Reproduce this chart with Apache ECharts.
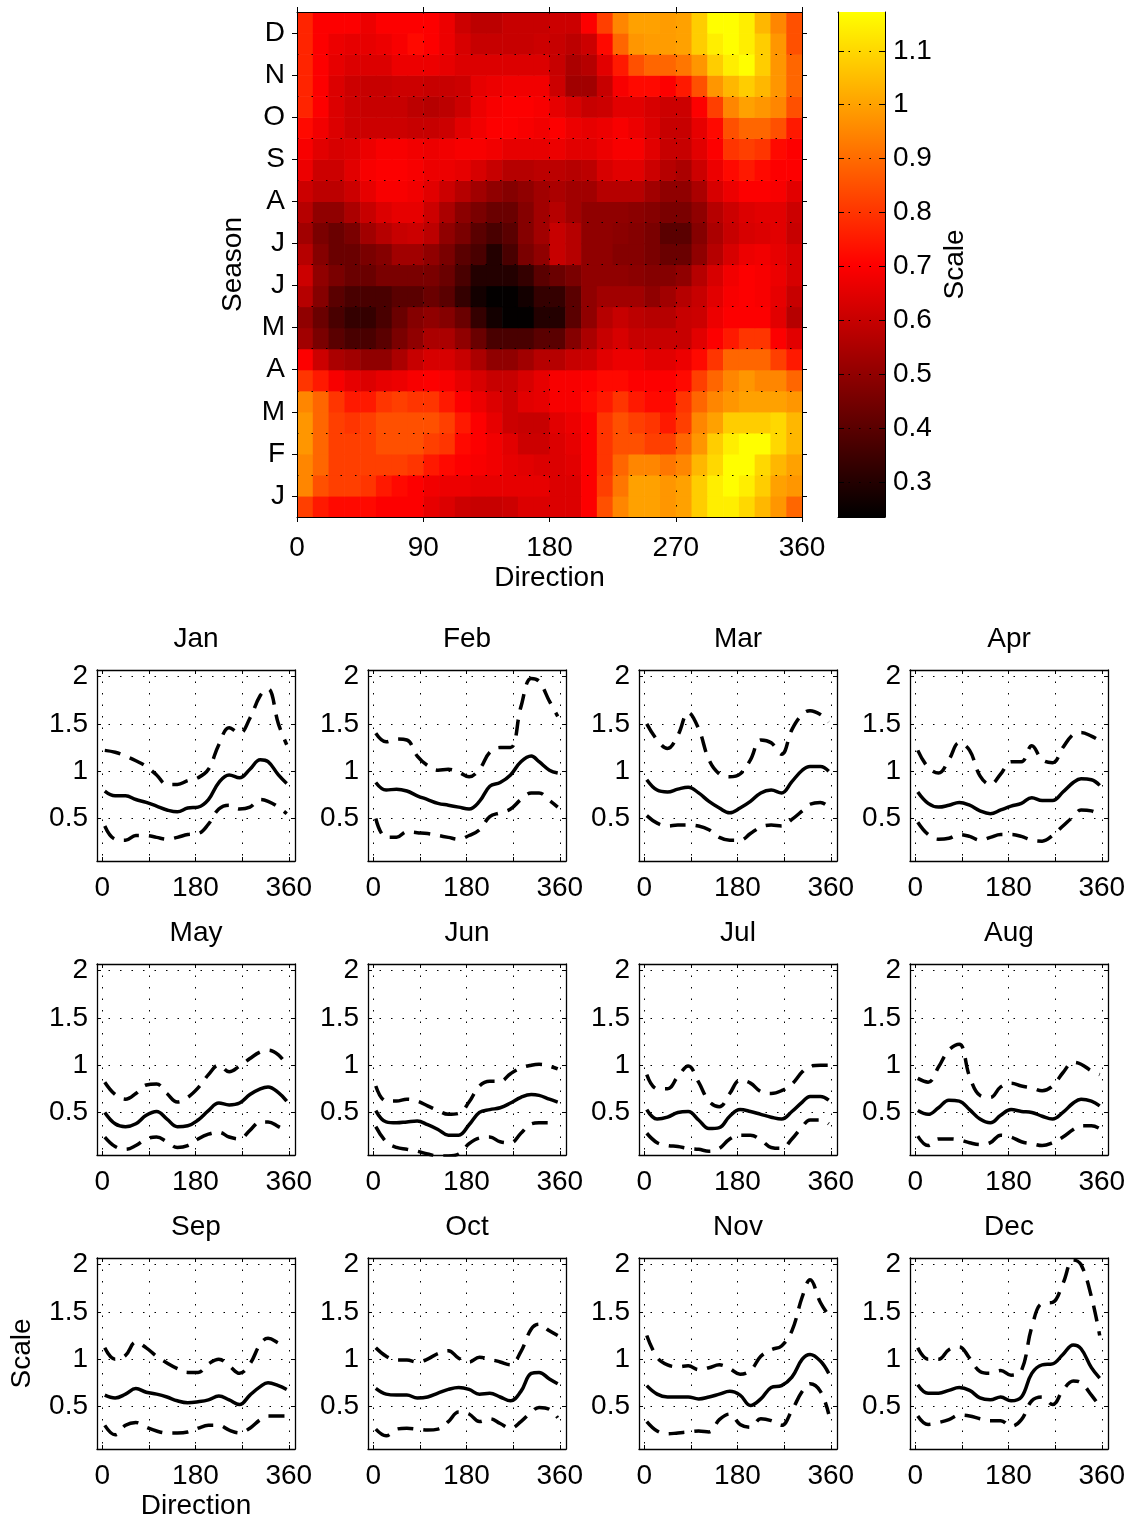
<!DOCTYPE html>
<html><head><meta charset="utf-8">
<script src="https://cdn.jsdelivr.net/npm/echarts@6/dist/echarts.min.js"></script>
<style>html,body{margin:0;padding:0;background:#fff}#chart{width:1132px;height:1522px}</style>
</head><body><div id="chart"></div>
<script>
// ---------------- DATA ----------------
const seasonLabels = ['J','F','M','A','M','J','J','A','S','O','N','D'];
const heatDirections = [0,11.25,22.5,33.75,45,56.25,67.5,78.75,90,101.25,112.5,123.75,135,146.25,157.5,168.75,180,191.25,202.5,213.75,225,236.25,247.5,258.75,270,281.25,292.5,303.75,315,326.25,337.5,348.75];
const colorRange = [0.235, 1.172];
const colorbarTicks = [0.3,0.4,0.5,0.6,0.7,0.8,0.9,1,1.1];
// each month: [first half, second half], 32 direction bins
const heatJan = [
 [0.82,0.75,0.72,0.72,0.72,0.70,0.70,0.70,0.66,0.64,0.61,0.60,0.60,0.61,0.64,0.64,0.64,0.64,0.70,0.85,0.95,1.00,1.00,0.98,1.00,1.08,1.14,1.14,1.10,1.04,0.98,0.89],
 [0.95,0.85,0.82,0.82,0.80,0.75,0.72,0.70,0.68,0.67,0.67,0.66,0.66,0.66,0.66,0.66,0.64,0.64,0.70,0.82,0.92,1.00,1.00,0.98,1.00,1.08,1.14,1.17,1.14,1.08,1.00,0.98]];
const heatFeb = [
 [0.95,0.89,0.82,0.82,0.82,0.82,0.82,0.80,0.75,0.72,0.70,0.69,0.68,0.66,0.65,0.64,0.64,0.65,0.70,0.80,0.89,0.95,0.95,0.92,0.95,1.04,1.10,1.17,1.17,1.10,1.04,1.00],
 [0.98,0.89,0.82,0.82,0.82,0.85,0.85,0.85,0.82,0.80,0.72,0.70,0.68,0.65,0.61,0.61,0.64,0.66,0.70,0.80,0.85,0.85,0.82,0.82,0.89,0.98,1.08,1.14,1.17,1.17,1.10,1.04]];
const heatMar = [
 [0.98,0.89,0.82,0.80,0.82,0.85,0.85,0.85,0.85,0.82,0.75,0.70,0.66,0.61,0.60,0.60,0.65,0.67,0.70,0.80,0.85,0.82,0.80,0.75,0.82,0.95,1.00,1.08,1.08,1.08,1.10,1.04],
 [0.95,0.89,0.80,0.75,0.75,0.80,0.82,0.80,0.80,0.75,0.70,0.67,0.64,0.61,0.65,0.66,0.69,0.69,0.72,0.75,0.80,0.75,0.72,0.72,0.80,0.89,0.95,0.98,1.00,1.00,1.00,0.98]];
const heatApr = [
 [0.80,0.75,0.69,0.66,0.64,0.66,0.67,0.69,0.70,0.69,0.66,0.63,0.60,0.60,0.63,0.66,0.69,0.69,0.70,0.72,0.72,0.70,0.70,0.70,0.72,0.82,0.89,0.95,0.98,0.95,0.95,0.89],
 [0.70,0.61,0.55,0.53,0.50,0.50,0.55,0.60,0.63,0.63,0.60,0.55,0.50,0.50,0.53,0.57,0.57,0.60,0.61,0.65,0.67,0.67,0.65,0.65,0.67,0.72,0.80,0.89,0.89,0.89,0.82,0.75]];
const heatMay = [
 [0.53,0.46,0.40,0.37,0.37,0.40,0.46,0.50,0.55,0.55,0.50,0.43,0.37,0.37,0.37,0.40,0.40,0.48,0.55,0.60,0.63,0.60,0.60,0.60,0.60,0.65,0.70,0.75,0.80,0.80,0.70,0.65],
 [0.50,0.43,0.37,0.33,0.33,0.37,0.43,0.48,0.50,0.48,0.43,0.33,0.27,0.24,0.24,0.30,0.30,0.40,0.50,0.57,0.60,0.58,0.57,0.57,0.60,0.61,0.67,0.70,0.70,0.70,0.65,0.57]];
const heatJun = [
 [0.57,0.48,0.40,0.37,0.37,0.37,0.40,0.40,0.43,0.40,0.33,0.27,0.24,0.24,0.27,0.33,0.33,0.40,0.50,0.53,0.53,0.53,0.50,0.53,0.57,0.60,0.65,0.69,0.70,0.69,0.66,0.60],
 [0.61,0.50,0.46,0.43,0.43,0.46,0.46,0.46,0.46,0.43,0.37,0.30,0.30,0.30,0.33,0.40,0.43,0.46,0.50,0.50,0.50,0.49,0.48,0.48,0.50,0.57,0.63,0.68,0.70,0.69,0.67,0.63]];
const heatJul = [
 [0.57,0.48,0.43,0.43,0.46,0.48,0.53,0.53,0.50,0.46,0.40,0.37,0.30,0.37,0.46,0.50,0.60,0.57,0.50,0.50,0.48,0.48,0.46,0.43,0.43,0.50,0.57,0.63,0.67,0.68,0.66,0.63],
 [0.53,0.46,0.43,0.46,0.53,0.57,0.60,0.61,0.58,0.50,0.46,0.40,0.37,0.40,0.48,0.53,0.60,0.57,0.50,0.50,0.49,0.48,0.46,0.40,0.40,0.48,0.55,0.60,0.63,0.64,0.65,0.60]];
const heatAug = [
 [0.57,0.50,0.50,0.55,0.60,0.64,0.66,0.66,0.61,0.55,0.49,0.46,0.43,0.43,0.48,0.53,0.57,0.53,0.50,0.50,0.50,0.49,0.48,0.46,0.46,0.50,0.57,0.61,0.64,0.65,0.65,0.61],
 [0.61,0.58,0.58,0.61,0.66,0.69,0.69,0.68,0.65,0.61,0.57,0.53,0.50,0.48,0.50,0.53,0.55,0.53,0.53,0.57,0.57,0.57,0.53,0.50,0.50,0.55,0.63,0.67,0.70,0.70,0.69,0.65]];
const heatSep = [
 [0.67,0.61,0.61,0.65,0.69,0.70,0.70,0.69,0.67,0.67,0.66,0.63,0.60,0.57,0.57,0.58,0.58,0.57,0.58,0.63,0.65,0.65,0.61,0.57,0.55,0.61,0.67,0.72,0.75,0.72,0.70,0.70],
 [0.69,0.65,0.63,0.64,0.67,0.69,0.69,0.68,0.67,0.68,0.69,0.69,0.68,0.66,0.66,0.66,0.67,0.65,0.65,0.67,0.69,0.69,0.65,0.60,0.60,0.65,0.70,0.80,0.82,0.80,0.72,0.70]];
const heatOct = [
 [0.72,0.68,0.64,0.61,0.61,0.61,0.61,0.60,0.60,0.61,0.65,0.68,0.70,0.70,0.69,0.68,0.70,0.67,0.66,0.67,0.69,0.67,0.64,0.60,0.60,0.66,0.72,0.85,0.89,0.89,0.85,0.75],
 [0.77,0.70,0.64,0.61,0.60,0.60,0.60,0.58,0.57,0.58,0.61,0.67,0.69,0.70,0.70,0.69,0.66,0.63,0.60,0.61,0.65,0.65,0.63,0.61,0.61,0.70,0.82,0.95,1.00,0.98,0.95,0.85]];
const heatNov = [
 [0.77,0.70,0.64,0.61,0.60,0.60,0.61,0.61,0.60,0.60,0.61,0.66,0.67,0.68,0.68,0.68,0.61,0.53,0.53,0.60,0.69,0.72,0.72,0.70,0.75,0.85,0.98,1.04,1.08,1.04,0.98,0.89],
 [0.77,0.70,0.66,0.64,0.64,0.64,0.67,0.67,0.67,0.66,0.64,0.64,0.64,0.64,0.64,0.64,0.60,0.55,0.57,0.65,0.75,0.85,0.89,0.89,0.92,0.98,1.08,1.14,1.17,1.08,0.98,0.89]];
const heatDec = [
 [0.77,0.70,0.67,0.66,0.66,0.67,0.69,0.72,0.70,0.67,0.63,0.60,0.60,0.60,0.60,0.61,0.60,0.58,0.61,0.72,0.89,0.98,0.99,0.99,1.00,1.08,1.14,1.17,1.14,1.08,0.98,0.85],
 [0.77,0.70,0.70,0.70,0.67,0.70,0.70,0.70,0.70,0.67,0.61,0.58,0.58,0.60,0.60,0.60,0.61,0.61,0.70,0.82,0.95,1.00,1.00,0.99,1.00,1.08,1.17,1.17,1.14,1.04,0.95,0.85]];

const monthNames = ['Jan','Feb','Mar','Apr','May','Jun','Jul','Aug','Sep','Oct','Nov','Dec'];
const lineDirections = [5,25,45,65,85,105,125,145,165,185,205,225,245,265,285,305,320,340,356];
const panelXLabels = [0,180,360];
const panelXTicks = [0,90,180,270,360];
const panelYTicks = [0.5,1,1.5,2];
const panelYRange = [0.05, 2.07];
const panelXRange = [-10, 372];

const janMedian = [0.79,0.74,0.74,0.70,0.67,0.63,0.59,0.57,0.61,0.62,0.70,0.88,0.96,0.93,1.02,1.12,1.10,0.96,0.87];
const janUpper  = [1.22,1.20,1.16,1.11,1.05,0.96,0.86,0.86,0.90,0.93,1.02,1.28,1.46,1.40,1.56,1.80,1.87,1.50,1.28];
const janLower  = [0.42,0.28,0.27,0.32,0.32,0.30,0.28,0.30,0.33,0.34,0.44,0.60,0.64,0.60,0.62,0.70,0.68,0.62,0.55];
const febMedian = [0.88,0.80,0.81,0.79,0.74,0.70,0.66,0.64,0.62,0.60,0.68,0.84,0.88,0.96,1.10,1.16,1.10,1.01,0.98];
const febUpper  = [1.40,1.31,1.34,1.33,1.16,1.06,1.01,1.02,0.99,0.94,1.02,1.20,1.25,1.25,1.68,1.98,1.95,1.74,1.58];
const febLower  = [0.50,0.30,0.30,0.36,0.35,0.34,0.32,0.30,0.28,0.32,0.38,0.52,0.56,0.60,0.70,0.77,0.77,0.69,0.62];
const marMedian = [0.91,0.80,0.78,0.81,0.83,0.77,0.68,0.61,0.56,0.61,0.68,0.77,0.80,0.77,0.89,1.01,1.05,1.05,1.00];
const marUpper  = [1.50,1.33,1.24,1.38,1.62,1.45,1.12,0.97,0.94,0.97,1.12,1.33,1.30,1.18,1.44,1.60,1.64,1.60,1.52];
const marLower  = [0.53,0.45,0.42,0.43,0.43,0.42,0.38,0.30,0.27,0.27,0.34,0.41,0.43,0.42,0.49,0.58,0.65,0.67,0.62];
const aprMedian = [0.78,0.66,0.62,0.64,0.67,0.64,0.58,0.55,0.59,0.63,0.66,0.72,0.69,0.69,0.78,0.88,0.92,0.91,0.85];
const aprUpper  = [1.22,1.04,0.98,1.12,1.30,1.22,0.95,0.86,0.97,1.10,1.10,1.27,1.12,1.09,1.25,1.39,1.41,1.37,1.32];
const aprLower  = [0.46,0.33,0.28,0.29,0.33,0.31,0.27,0.30,0.33,0.33,0.31,0.27,0.26,0.32,0.42,0.52,0.59,0.58,0.54];
const mayMedian = [0.50,0.38,0.35,0.38,0.47,0.51,0.43,0.35,0.36,0.42,0.52,0.60,0.58,0.60,0.69,0.75,0.77,0.71,0.62];
const mayUpper  = [0.82,0.69,0.64,0.70,0.79,0.80,0.70,0.61,0.66,0.76,0.90,1.00,0.93,0.99,1.07,1.14,1.16,1.11,1.00];
const mayLower  = [0.24,0.14,0.11,0.15,0.22,0.24,0.19,0.13,0.15,0.22,0.27,0.29,0.24,0.22,0.31,0.40,0.40,0.35,0.30];
const junMedian = [0.52,0.40,0.39,0.40,0.41,0.37,0.32,0.26,0.26,0.37,0.50,0.53,0.55,0.60,0.66,0.69,0.68,0.64,0.61];
const junUpper  = [0.78,0.62,0.62,0.64,0.62,0.57,0.52,0.48,0.49,0.61,0.78,0.83,0.83,0.91,0.97,1.00,1.01,0.99,0.96];
const junLower  = [0.35,0.19,0.13,0.11,0.09,0.06,0.04,0.04,0.06,0.17,0.23,0.24,0.19,0.18,0.28,0.38,0.39,0.39,0.38];
const julMedian = [0.53,0.43,0.45,0.50,0.51,0.42,0.33,0.34,0.46,0.53,0.51,0.48,0.45,0.43,0.51,0.61,0.67,0.67,0.63];
const julUpper  = [0.90,0.75,0.75,0.88,0.99,0.82,0.62,0.56,0.70,0.84,0.81,0.72,0.70,0.73,0.80,0.93,0.99,1.00,1.00];
const julLower  = [0.28,0.18,0.15,0.14,0.12,0.11,0.09,0.12,0.22,0.26,0.26,0.21,0.13,0.12,0.22,0.35,0.42,0.42,0.38];
const augMedian = [0.52,0.48,0.55,0.63,0.62,0.53,0.43,0.39,0.47,0.53,0.51,0.50,0.46,0.43,0.50,0.60,0.64,0.62,0.57];
const augUpper  = [0.86,0.82,0.98,1.16,1.22,0.88,0.68,0.66,0.77,0.81,0.78,0.76,0.73,0.78,0.92,1.03,1.01,0.94,0.90];
const augLower  = [0.25,0.15,0.22,0.22,0.21,0.18,0.16,0.18,0.26,0.24,0.19,0.17,0.15,0.18,0.24,0.32,0.36,0.36,0.33];
const sepMedian = [0.62,0.59,0.63,0.69,0.65,0.63,0.60,0.56,0.54,0.55,0.57,0.61,0.57,0.52,0.62,0.71,0.75,0.72,0.68];
const sepUpper  = [1.12,1.00,1.04,1.18,1.12,1.03,0.96,0.90,0.86,0.86,0.95,1.00,0.93,0.85,0.95,1.16,1.22,1.17,1.12];
const sepLower  = [0.30,0.20,0.30,0.33,0.28,0.24,0.22,0.22,0.23,0.27,0.30,0.30,0.25,0.22,0.27,0.36,0.40,0.40,0.40];
const octMedian = [0.69,0.63,0.62,0.62,0.59,0.60,0.64,0.68,0.70,0.68,0.63,0.64,0.60,0.56,0.66,0.85,0.86,0.79,0.74];
const octUpper  = [1.12,1.03,0.99,0.99,0.97,1.00,1.06,1.09,1.01,0.97,1.02,1.00,0.97,0.94,1.08,1.32,1.37,1.30,1.25];
const octLower  = [0.26,0.19,0.26,0.27,0.26,0.25,0.26,0.34,0.44,0.42,0.34,0.37,0.32,0.27,0.34,0.44,0.49,0.47,0.38];
const novMedian = [0.72,0.63,0.60,0.60,0.60,0.58,0.60,0.63,0.66,0.62,0.51,0.58,0.70,0.72,0.81,1.00,1.05,0.98,0.85];
const novUpper  = [1.25,1.02,0.94,0.92,0.93,0.89,0.91,0.94,0.90,0.84,0.88,1.03,1.10,1.14,1.30,1.66,1.84,1.60,1.46];
const novLower  = [0.34,0.24,0.21,0.22,0.23,0.24,0.23,0.36,0.42,0.31,0.28,0.37,0.35,0.30,0.46,0.66,0.74,0.66,0.42];
const decMedian = [0.73,0.64,0.64,0.67,0.70,0.67,0.59,0.57,0.60,0.56,0.60,0.85,0.94,0.95,1.05,1.15,1.11,0.91,0.80];
const decUpper  = [1.12,1.00,1.00,1.10,1.13,1.01,0.87,0.85,0.88,0.83,0.88,1.34,1.59,1.60,1.80,2.05,2.00,1.66,1.25];
const decLower  = [0.40,0.31,0.33,0.36,0.41,0.40,0.37,0.35,0.35,0.29,0.36,0.56,0.60,0.52,0.67,0.77,0.75,0.62,0.50];

// ---------------- BUILD ----------------
const heatMonths = [heatJan,heatFeb,heatMar,heatApr,heatMay,heatJun,heatJul,heatAug,heatSep,heatOct,heatNov,heatDec];
const panelLines = [
  [janMedian,janUpper,janLower],[febMedian,febUpper,febLower],[marMedian,marUpper,marLower],[aprMedian,aprUpper,aprLower],
  [mayMedian,mayUpper,mayLower],[junMedian,junUpper,junLower],[julMedian,julUpper,julLower],[augMedian,augUpper,augLower],
  [sepMedian,sepUpper,sepLower],[octMedian,octUpper,octLower],[novMedian,novUpper,novLower],[decMedian,decUpper,decLower]];

const FONT = '"Liberation Sans", Arial, Helvetica, sans-serif';
const FS = 28;
const txt = {color:'#000', fontSize:FS, fontFamily:FONT};
const black = {color:'#000', width:1};

const colSpan = heatDirections[1] - heatDirections[0];
const rowSpan = 0.5;
const heatCells = [];
heatMonths.forEach((pair, m) => pair.forEach((row, h) => row.forEach((v, c) => {
  heatCells.push([heatDirections[c], m + h * rowSpan, v]);
})));

const grids = [], xAxes = [], yAxes = [], series = [], titles = [];

// Heatmap grid (0)
grids.push({left:297, top:12, width:505, height:505});
xAxes.push({gridIndex:0, type:'value', min:0, max:360, interval:90, position:'bottom', z:5,
  axisLine:{show:true, onZero:false, lineStyle:black},
  axisTick:{show:true, inside:false, length:5, lineStyle:black},
  axisLabel:Object.assign({margin:17}, txt),
  splitLine:{show:true, lineStyle:{color:'#000', width:1, type:[1.5,13]}},
  name:'Direction', nameLocation:'middle', nameGap:47, nameTextStyle:txt});
xAxes.push({gridIndex:0, type:'value', min:0, max:360, interval:90, position:'top', z:5,
  axisLine:{show:true, onZero:false, lineStyle:black},
  axisTick:{show:true, inside:false, length:5, lineStyle:black},
  axisLabel:{show:false}, splitLine:{show:false}});
yAxes.push({gridIndex:0, type:'value', min:0, max:12, show:false});
yAxes.push({gridIndex:0, type:'category', data:seasonLabels, position:'left', boundaryGap:true, z:5,
  axisLine:{show:true, onZero:false, lineStyle:black},
  axisTick:{show:true, inside:false, length:5, alignWithLabel:true, lineStyle:black},
  axisLabel:Object.assign({margin:12}, txt),
  splitLine:{show:true, lineStyle:{color:'#000', width:1, type:[1.5,13]}},
  name:'Season', nameLocation:'middle', nameGap:50, nameRotate:90, nameTextStyle:txt});
yAxes.push({gridIndex:0, type:'category', data:seasonLabels, position:'right', boundaryGap:true, z:5,
  axisLine:{show:true, onZero:false, lineStyle:black},
  axisTick:{show:true, inside:false, length:5, alignWithLabel:true, lineStyle:black},
  axisLabel:{show:false}, splitLine:{show:false}});
series.push({type:'custom', xAxisIndex:0, yAxisIndex:0, data:heatCells, encode:{x:0, y:1},
  renderItem(params, api) {
    const x0 = api.value(0), y0 = api.value(1);
    const p0 = api.coord([x0, y0 + rowSpan]);
    const p1 = api.coord([x0 + colSpan, y0]);
    return {type:'rect', shape:{x:p0[0], y:p0[1], width:p1[0]-p0[0]+0.6, height:p1[1]-p0[1]+0.6},
      style:{fill:api.visual('color')}};
  }});

// Colorbar grid (1)
grids.push({left:838, top:12, width:47, height:505});
xAxes.push({gridIndex:1, type:'value', min:0, max:1, position:'bottom',
  axisLine:{show:true, onZero:false, lineStyle:black}, axisTick:{show:false}, axisLabel:{show:false}, splitLine:{show:false}});
xAxes.push({gridIndex:1, type:'value', min:0, max:1, position:'top',
  axisLine:{show:true, onZero:false, lineStyle:black}, axisTick:{show:false}, axisLabel:{show:false}, splitLine:{show:false}});
yAxes.push({gridIndex:1, type:'value', min:colorRange[0], max:colorRange[1], position:'right', z:5,
  axisLine:{show:true, onZero:false, lineStyle:black},
  axisTick:{show:true, inside:true, length:6, customValues:colorbarTicks, lineStyle:black},
  axisLabel:Object.assign({margin:8, customValues:colorbarTicks, formatter:v => String(+(+v).toFixed(2))}, txt),
  splitLine:{show:true, lineStyle:{color:'#000', width:1, type:[1.5,9]}},
  name:'Scale', nameLocation:'middle', nameGap:56, nameRotate:90, nameTextStyle:txt});
yAxes.push({gridIndex:1, type:'value', min:colorRange[0], max:colorRange[1], position:'left', z:5,
  axisLine:{show:true, onZero:false, lineStyle:black},
  axisTick:{show:true, inside:true, length:6, customValues:colorbarTicks, lineStyle:black},
  axisLabel:{show:false}, splitLine:{show:false}});
series.push({type:'custom', xAxisIndex:2, yAxisIndex:3, data:[[0, colorRange[0], 1, colorRange[1]]],
  renderItem(params, api) {
    const p0 = api.coord([api.value(0), api.value(3)]);
    const p1 = api.coord([api.value(2), api.value(1)]);
    return {type:'rect', shape:{x:p0[0], y:p0[1], width:p1[0]-p0[0], height:p1[1]-p0[1]},
      style:{fill:{type:'linear', x:0, y:1, x2:0, y2:0, colorStops:[
        {offset:0, color:'#000000'}, {offset:0.5, color:'#ff0000'}, {offset:1, color:'#ffff00'}]}}};
  }});

// Monthly panels
monthNames.forEach((name, i) => {
  const g = grids.length;
  const left = 97 + 271 * (i % 4);
  const top = 670 + 294 * Math.floor(i / 4);
  grids.push({left:left, top:top, width:198, height:191});
  const xi = xAxes.length, yi = yAxes.length;
  const isSep = (i === 8);
  xAxes.push({gridIndex:g, type:'value', min:panelXRange[0], max:panelXRange[1], position:'bottom',
    axisLine:{show:true, onZero:false, lineStyle:{color:'#000', width:1.3}},
    axisTick:{show:true, inside:true, length:4, customValues:panelXTicks, lineStyle:black},
    axisLabel:Object.assign({margin:13, customValues:panelXLabels}, txt),
    splitLine:{show:true, lineStyle:{color:'#000', width:1, type:[1.5,10]}},
    name: isSep ? 'Direction' : '', nameLocation:'middle', nameGap:43, nameTextStyle:txt});
  xAxes.push({gridIndex:g, type:'value', min:panelXRange[0], max:panelXRange[1], position:'top',
    axisLine:{show:true, onZero:false, lineStyle:{color:'#000', width:1.3}},
    axisTick:{show:true, inside:true, length:4, customValues:panelXTicks, lineStyle:black},
    axisLabel:{show:false}, splitLine:{show:false}});
  yAxes.push({gridIndex:g, type:'value', min:panelYRange[0], max:panelYRange[1], position:'left',
    axisLine:{show:true, onZero:false, lineStyle:{color:'#000', width:1.3}},
    axisTick:{show:true, inside:true, length:4, customValues:panelYTicks, lineStyle:black},
    axisLabel:Object.assign({margin:9, customValues:panelYTicks}, txt),
    splitLine:{show:true, lineStyle:{color:'#000', width:1, type:[1.5,10]}},
    name: isSep ? 'Scale' : '', nameLocation:'middle', nameGap:61, nameRotate:90, nameTextStyle:txt});
  yAxes.push({gridIndex:g, type:'value', min:panelYRange[0], max:panelYRange[1], position:'right',
    axisLine:{show:true, onZero:false, lineStyle:{color:'#000', width:1.3}},
    axisTick:{show:true, inside:true, length:4, customValues:panelYTicks, lineStyle:black},
    axisLabel:{show:false}, splitLine:{show:false}});
  const [med, up, lo] = panelLines[i];
  [[med, 'solid'], [up, [16,10]], [lo, [16,10]]].forEach(([arr, type]) => {
    series.push({type:'line', xAxisIndex:xi, yAxisIndex:yi, smooth:0.4, symbol:'none', silent:true,
      data: lineDirections.map((d, k) => [d, arr[k]]),
      lineStyle:{color:'#000', width:3.5, type:type, cap:'butt'}});
  });
  titles.push({text:name, left:left + 99, top:top - 45, textAlign:'center', padding:0,
    textStyle:{color:'#000', fontSize:FS, fontWeight:'normal', fontFamily:FONT}});
});

const chart = echarts.init(document.getElementById('chart'), null, {renderer:'canvas'});
chart.setOption({
  backgroundColor:'#fff',
  animation:false,
  title:titles,
  grid:grids, xAxis:xAxes, yAxis:yAxes,
  visualMap:{type:'continuous', show:false, min:colorRange[0], max:colorRange[1], dimension:2, seriesIndex:0,
    inRange:{color:['#000000','#ff0000','#ffff00']}},
  series:series
});
</script></body></html>
